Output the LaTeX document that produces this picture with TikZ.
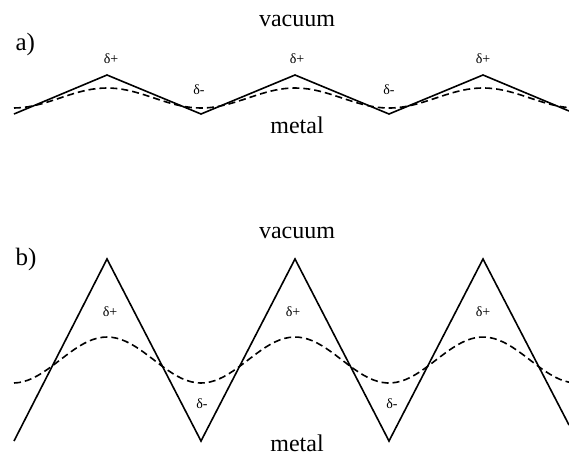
\documentclass[tikz,border=0pt]{standalone}
\usepackage{fontspec}
\setmainfont{Liberation Serif}
\tikzset{
  surface/.style={line width=1.6pt, line join=miter},
  average/.style={line width=1.6pt, dash pattern=on 7pt off 4pt},
  medium/.style={anchor=base, font=\fontsize{24}{28}\selectfont},
  charge/.style={anchor=base, font=\fontsize{14}{16}\selectfont},
  panel/.style={anchor=base west, font=\fontsize{25}{28}\selectfont}
}
\begin{document}
\begin{tikzpicture}[x=1pt, y=-1pt]
    \useasboundingbox (0,0) rectangle (569,464);

    % a) shallow profile
    \node[panel] (la) at (12,50) {a)};
    \node[medium] (vaca) at (297,26) {vacuum};
    \node[medium] (meta) at (297,133) {metal};

    \coordinate (a0) at (14,114);
    \coordinate (a1) at (107,75);
    \coordinate (a2) at (201,114);
    \coordinate (a3) at (295,75);
    \coordinate (a4) at (389,114);
    \coordinate (a5) at (483,75);
    \coordinate (a6) at (569,111);
    \draw[surface] (a0) -- (a1) -- (a2) -- (a3) -- (a4) -- (a5) -- (a6);
    \draw[average] plot[domain=14:569, samples=120] (\x, {98-10*cos((\x-107)/188*360)});

    \node[charge] (pa1) at (111,63) {δ+};
    \node[charge] (ma1) at (199,94) {δ-};
    \node[charge] (pa2) at (297,63) {δ+};
    \node[charge] (ma2) at (389,94) {δ-};
    \node[charge] (pa3) at (483,63) {δ+};

    % b) steep profile
    \node[panel] (lb) at (12,265) {b)};
    \node[medium] (vacb) at (297,238) {vacuum};
    \node[medium] (metb) at (297,451) {metal};

    \coordinate (b0) at (14,441);
    \coordinate (b1) at (107,259);
    \coordinate (b2) at (201,441);
    \coordinate (b3) at (295,259);
    \coordinate (b4) at (389,441);
    \coordinate (b5) at (483,259);
    \coordinate (b6) at (569,425);
    \draw[surface] (b0) -- (b1) -- (b2) -- (b3) -- (b4) -- (b5) -- (b6);
    \draw[average] plot[domain=14:569, samples=120] (\x, {360-23*cos((\x-107)/188*360)});

    \node[charge] (pb1) at (110,316) {δ+};
    \node[charge] (mb1) at (202,408) {δ-};
    \node[charge] (pb2) at (293,316) {δ+};
    \node[charge] (mb2) at (392,408) {δ-};
    \node[charge] (pb3) at (483,316) {δ+};
\end{tikzpicture}
\end{document}
